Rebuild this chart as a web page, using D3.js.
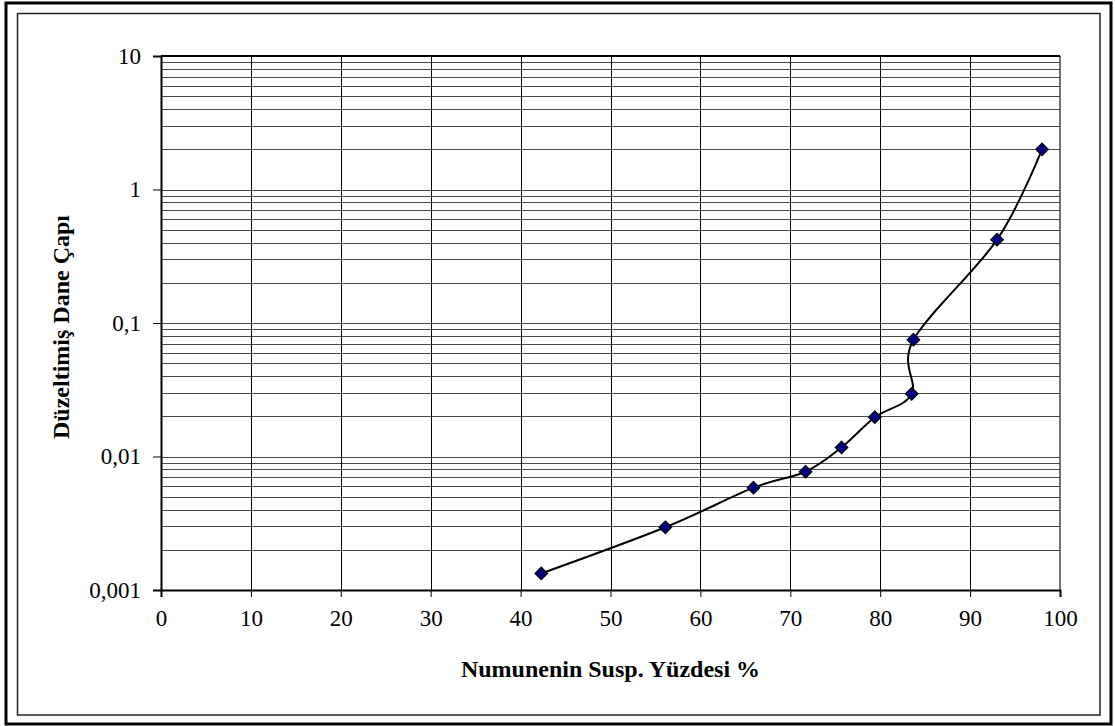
<!DOCTYPE html>
<html>
<head>
<meta charset="utf-8">
<script src="https://cdn.jsdelivr.net/npm/d3@7"></script>
<style>
  html, body { margin: 0; padding: 0; background: #fff; }
  svg { display: block; }
  text { font-family: "Liberation Serif", "Times New Roman", serif; fill: #000; }
</style>
</head>
<body>
<svg id="chart" width="1115" height="726"></svg>
<script>
// Data
const percent = [42.3, 56.1, 65.9, 71.7, 75.7, 79.4, 83.5, 83.7, 93.0, 98.0];
const diameter = [0.00133, 0.00295, 0.00584, 0.0077, 0.0117, 0.0197, 0.0295, 0.075, 0.421, 2.0];
const xTicks = [0, 10, 20, 30, 40, 50, 60, 70, 80, 90, 100];
const yTicks = [0.001, 0.01, 0.1, 1, 10];
const yTickLabels = ["0,001", "0,01", "0,1", "1", "10"];
const xTitle = "Numunenin Susp. Yüzdesi %";
const yTitle = "Düzeltimiş Dane Çapı";

const svg = d3.select("#chart");
const L = 161, R = 1060, T = 56, B = 590;

// Outer borders
svg.append("rect").attr("x", 6).attr("y", 3).attr("width", 1105).attr("height", 721)
  .attr("fill", "none").attr("stroke", "#000").attr("stroke-width", 3);
svg.append("rect").attr("x", 17.5).attr("y", 13.5).attr("width", 1082.5).attr("height", 701.5)
  .attr("fill", "none").attr("stroke", "#222").attr("stroke-width", 1.5);

const x = d3.scaleLinear().domain([0, 100]).range([L, R]);
const y = d3.scaleLog().domain([0.001, 10]).range([B, T]);

// Minor horizontal grid (log)
const minor = [];
for (let e = -3; e < 1; e++) {
  for (let m = 2; m <= 9; m++) minor.push(m * Math.pow(10, e));
}
const grid = svg.append("g");
grid.selectAll("line.h").data(minor.concat(yTicks.slice(1, 4))).enter().append("line")
  .attr("x1", L).attr("x2", R)
  .attr("y1", d => Math.round(y(d)) + 0.5).attr("y2", d => Math.round(y(d)) + 0.5)
  .attr("stroke", "#4a4a4a").attr("stroke-width", 1.2);
grid.selectAll("line.v").data(xTicks.slice(1, 10)).enter().append("line")
  .attr("y1", T).attr("y2", B)
  .attr("x1", d => Math.round(x(d)) + 0.5).attr("x2", d => Math.round(x(d)) + 0.5)
  .attr("stroke", "#000").attr("stroke-width", 1);

// Plot border
svg.append("line").attr("x1", R).attr("x2", R).attr("y1", T).attr("y2", B)
  .attr("stroke", "#444").attr("stroke-width", 1.5);
svg.append("line").attr("x1", L).attr("x2", R).attr("y1", T).attr("y2", T)
  .attr("stroke", "#000").attr("stroke-width", 2);

// Axes
const xAxis = d3.axisBottom(x).tickValues(xTicks).tickSize(7).tickPadding(13)
  .tickFormat(d3.format("d"));
const gx = svg.append("g").attr("transform", `translate(0,${B})`).call(xAxis);
gx.attr("font-family", null).attr("font-size", null);
gx.select(".domain").attr("stroke", "#000").attr("stroke-width", 2);
gx.selectAll(".tick line").attr("stroke", "#000");
gx.selectAll("text").style("font-size", "23px").style("font-family", "'Liberation Serif'");

const yAxis = d3.axisLeft(y).tickValues(yTicks).tickSize(8).tickPadding(12)
  .tickFormat((d, i) => yTickLabels[i]);
const gy = svg.append("g").attr("transform", `translate(${L},0)`).call(yAxis);
gy.attr("font-family", null).attr("font-size", null);
gy.select(".domain").attr("stroke", "#000").attr("stroke-width", 2);
gy.selectAll(".tick line").attr("stroke", "#000");
gy.selectAll("text").style("font-size", "23px").style("font-family", "'Liberation Serif'");

// Titles
svg.append("text").attr("x", (L + R) / 2).attr("y", 677).attr("text-anchor", "middle")
  .style("font-size", "24px").attr("font-weight", "bold").text(xTitle);
svg.append("text").attr("transform", `translate(69,${(T + B) / 2 + 4}) rotate(-90)`)
  .attr("text-anchor", "middle").style("font-size", "24px").attr("font-weight", "bold").text(yTitle);

// Line
const pts = percent.map((p, i) => [x(p), y(diameter[i])]);
svg.append("path").attr("d", d3.line().curve(d3.curveCardinal.tension(0))(pts))
  .attr("fill", "none").attr("stroke", "#000").attr("stroke-width", 2);

// Markers
svg.selectAll("path.m").data(pts).enter().append("path")
  .attr("d", d3.symbol().type(d3.symbolDiamond2).size(100))
  .attr("transform", d => `translate(${d[0]},${d[1]})`)
  .attr("fill", "#000080").attr("stroke", "#000").attr("stroke-width", 1.2);
</script>
</body>
</html>
